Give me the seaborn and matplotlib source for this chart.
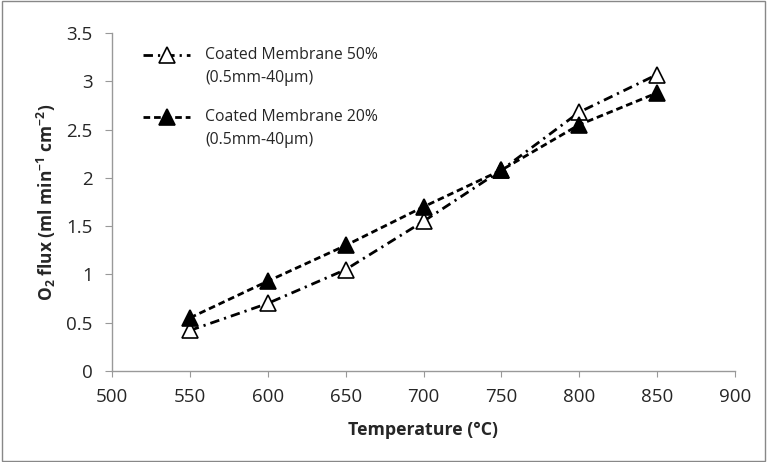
import matplotlib
matplotlib.use("Agg")
import matplotlib.pyplot as plt
from matplotlib.legend_handler import HandlerLine2D
import pandas as pd
import seaborn as sns

# data
temperature = [550, 600, 650, 700, 750, 800, 850]
flux_50 = [0.42, 0.70, 1.05, 1.55, 2.08, 2.68, 3.07]
flux_20 = [0.55, 0.93, 1.30, 1.70, 2.08, 2.55, 2.88]
label_50 = "Coated Membrane 50%\n(0.5mm-40µm)"
label_20 = "Coated Membrane 20%\n(0.5mm-40µm)"

sns.set_style("white")
plt.rcParams['font.family'] = ['Open Sans', 'DejaVu Sans']
plt.rcParams['mathtext.default'] = 'regular'


class TopHandler(HandlerLine2D):
    # put the legend line on the first text line, like Excel does
    def create_artists(self, legend, orig_handle, xdescent, ydescent, width, height, fontsize, trans):
        return super().create_artists(legend, orig_handle, xdescent, ydescent - 16.5,
                                      width, height, fontsize, trans)


df = pd.DataFrame({
    'Temperature': temperature * 2,
    'flux': flux_50 + flux_20,
    'series': [label_50] * len(temperature) + [label_20] * len(temperature),
})

fig = plt.figure(figsize=(7.67, 4.62), dpi=100)
ax = fig.add_axes([112 / 767, 1 - 371 / 462, (735 - 112) / 767, (371 - 33) / 462])

styles = {label_50: ((0, (3.4, 1.8, 0.8, 1.8)), 'white'), label_20: ((0, (2.4, 1.4)), 'black')}
for name, (ls, fc) in styles.items():
    sub = df[df['series'] == name]
    sns.lineplot(data=sub, x='Temperature', y='flux', ax=ax, color='black',
                 linestyle=ls, linewidth=2.0, marker='^', markersize=11,
                 markerfacecolor=fc, markeredgecolor='black', markeredgewidth=1.2,
                 label=name)

ax.set_xlim(500, 900)
ax.set_ylim(0, 3.5)
ax.set_xticks(range(500, 901, 50))
ax.set_yticks([0, 0.5, 1, 1.5, 2, 2.5, 3, 3.5])
ax.set_yticklabels(['0', '0.5', '1', '1.5', '2', '2.5', '3', '3.5'])
ax.tick_params(axis='both', labelsize=13.5, color='#999999', direction='out',
               left=True, bottom=True)
ax.tick_params(axis='y', length=5, pad=9)
ax.tick_params(axis='x', length=4, pad=8)
for s in ['top', 'right']:
    ax.spines[s].set_visible(False)
for s in ['left', 'bottom']:
    ax.spines[s].set_color('#999999')
    ax.spines[s].set_linewidth(1)

ax.set_xlabel('Temperature (°C)', fontsize=12.8, fontweight='bold', labelpad=11)
ax.set_ylabel('O$_2$ flux (ml min$^{-1}$ cm$^{-2}$)', fontsize=12.5, fontweight='bold', labelpad=6)

handles, labels = ax.get_legend_handles_labels()
leg = ax.legend(handles, labels, loc='upper left', bbox_to_anchor=(143 / 767, 1 - 47 / 462),
                bbox_transform=fig.transFigure, frameon=False, fontsize=11.3,
                handlelength=3.0, labelspacing=1.5, handletextpad=0.95,
                borderpad=0, borderaxespad=0,
                handler_map={h: TopHandler() for h in handles})
for t in leg.get_texts():
    t.set_linespacing(1.55)

fig.patches.append(plt.Rectangle((0.002, 0.002), 0.996, 0.996, transform=fig.transFigure,
                                 fill=False, edgecolor='#888888', linewidth=1))

fig.savefig('out.png', dpi=100)
